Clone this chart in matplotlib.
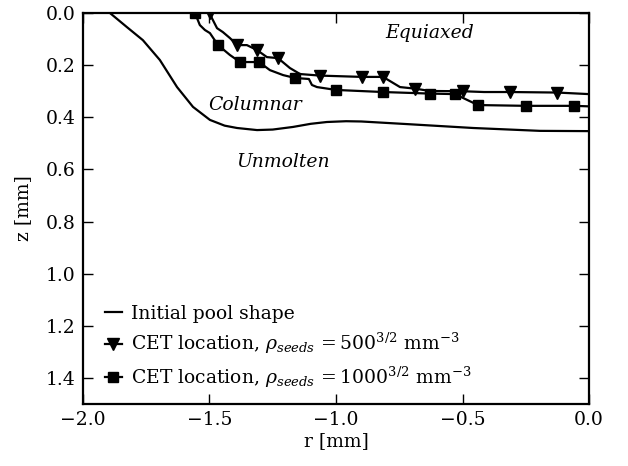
import numpy as np
import matplotlib
matplotlib.use("Agg")
import matplotlib.pyplot as plt

plt.rcParams['font.family'] = ['DejaVu Serif']
plt.rcParams['mathtext.fontset'] = 'dejavuserif'
plt.rcParams['font.size'] = 13.5

# 初期溶融池形状
pool_r = [-1.893, -1.826, -1.763, -1.696, -1.628, -1.565, -1.498, -1.44, -1.391, -1.312,
          -1.25, -1.17, -1.1, -1.036, -0.96, -0.9, -0.72, -0.458, -0.194, 0.0]
pool_z = [0.0, 0.054, 0.104, 0.18, 0.284, 0.36, 0.41, 0.432, 0.441, 0.449,
          0.447, 0.437, 0.425, 0.418, 0.415, 0.416, 0.426, 0.441, 0.452, 0.453]

# CET位置 (rho = 500^{3/2})
cet500_r = [-1.498, -1.490, -1.470, -1.447, -1.419, -1.391, -1.352, -1.312, -1.273, -1.229,
            -1.182, -1.142, -1.063, -0.897, -0.814, -0.747, -0.688, -0.628, -0.498, -0.415,
            -0.312, -0.126, 0.0]
cet500_z = [0.0, 0.02, 0.058, 0.073, 0.096, 0.123, 0.123, 0.142, 0.169, 0.173,
            0.211, 0.234, 0.240, 0.245, 0.245, 0.284, 0.290, 0.299, 0.300, 0.303,
            0.303, 0.305, 0.311]
cet500_mark = [0, 5, 7, 9, 12, 13, 14, 16, 18, 20, 21]

# CET位置 (rho = 1000^{3/2})
cet1000_r = [-1.557, -1.538, -1.518, -1.498, -1.466, -1.419, -1.379, -1.304, -1.261, -1.209,
             -1.162, -1.107, -1.095, -1.075, -1.0, -0.814, -0.628, -0.530, -0.439, -0.249,
             -0.059, 0.0]
cet1000_z = [0.0, 0.046, 0.065, 0.077, 0.123, 0.161, 0.188, 0.188, 0.219, 0.238,
             0.249, 0.253, 0.276, 0.284, 0.295, 0.303, 0.309, 0.311, 0.353, 0.356,
             0.356, 0.358]
cet1000_mark = [0, 4, 6, 7, 10, 14, 15, 16, 17, 18, 19, 20]

fig = plt.figure(figsize=(6.28, 4.66), dpi=100)
ax = fig.add_axes([0.132, 0.133, 0.806, 0.839])

ax.plot(pool_r, pool_z, 'k-', lw=1.6, label='Initial pool shape')
ax.plot(cet500_r, cet500_z, 'k-', lw=1.6, marker='v', ms=8, markevery=cet500_mark,
        label=r'CET location, $\rho_{seeds}\,{=}500^{3/2}\ \mathrm{mm}^{-3}$')
ax.plot(cet1000_r, cet1000_z, 'k-', lw=1.6, marker='s', ms=7.5, markevery=cet1000_mark,
        label=r'CET location, $\rho_{seeds}\,{=}1000^{3/2}\ \mathrm{mm}^{-3}$')

ax.text(-0.628, 0.077, 'Equiaxed', style='italic', ha='center', va='center')
ax.text(-1.32, 0.353, 'Columnar', style='italic', ha='center', va='center')
ax.text(-1.21, 0.572, 'Unmolten', style='italic', ha='center', va='center')

ax.set_xlim(-2.0, 0.0)
ax.set_ylim(1.5, 0.0)
ax.set_xticks([-2.0, -1.5, -1.0, -0.5, 0.0])
ax.set_yticks([0.0, 0.2, 0.4, 0.6, 0.8, 1.0, 1.2, 1.4])
ax.set_xlabel('r [mm]', labelpad=2)
ax.set_ylabel('z [mm]', labelpad=10)
ax.tick_params(direction='in', top=True, right=True, length=7, width=1, pad=5)
for s in ax.spines.values():
    s.set_linewidth(1.6)

ax.legend(loc='lower left', bbox_to_anchor=(0.016, 0.0), frameon=False,
          handlelength=0.9, handletextpad=0.5, labelspacing=0.45, borderaxespad=0.35)

fig.savefig('out.png', dpi=100)
